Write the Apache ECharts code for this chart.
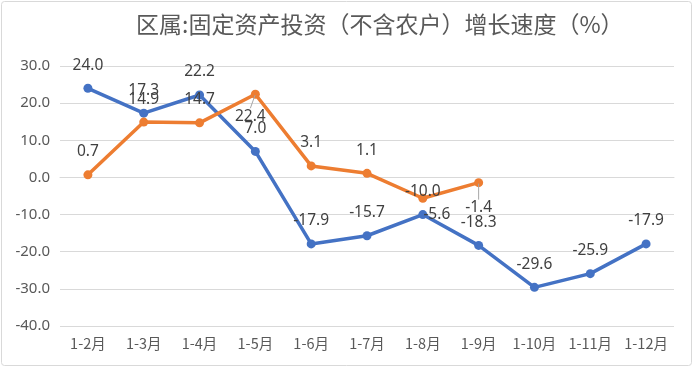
<!DOCTYPE html>
<html><head><meta charset="utf-8">
<script src="https://cdn.jsdelivr.net/npm/echarts@6/dist/echarts.min.js"></script>
<style>html,body{margin:0;padding:0;background:#fff}#c{width:694px;height:368px}</style>
</head><body><div id="c"></div>
<script>
const titleText = '区属:固定资产投资（不含农户）增长速度（%）';
const categories = ['1-2月','1-3月','1-4月','1-5月','1-6月','1-7月','1-8月','1-9月','1-10月','1-11月','1-12月'];
const blueValues = [24.0, 17.3, 22.2, 7.0, -17.9, -15.7, -10.0, -18.3, -29.6, -25.9, -17.9];
const orangeValues = [0.7, 14.9, 14.7, 22.4, 3.1, 1.1, -5.6, -1.4];
const yTicks = [-40, -30, -20, -10, 0, 10, 20, 30];

const labelFont = {fontSize: 15.5, color: '#404040', fontFamily: '"Noto Sans", sans-serif'};
const orangeMoves = {3: {dx: -5, dy: 22}, 6: {dx: 14, dy: 16}, 7: {dx: 0, dy: 25}};
const orangeLabelData = orangeValues.map((v, i) => ({
  value: v,
  labelLine: {show: i === 3 || i === 7}
}));

const lineSeries = (data, color) => ({
  type: 'line', data: data, symbol: 'circle', symbolSize: 9, z: 2,
  lineStyle: {color: color, width: 3.5}, itemStyle: {color: color}, label: {show: false}
});
const labelSeries = (data, layout, withLine) => ({
  type: 'line', data: data, symbol: 'circle', symbolSize: 2, z: 6, silent: true,
  lineStyle: {width: 0, opacity: 0}, itemStyle: {color: 'rgba(0,0,0,0)'},
  label: Object.assign({show: true, position: 'inside', formatter: p => p.value.toFixed(1)}, labelFont),
  labelLine: {show: false, lineStyle: {color: '#a6a6a6', width: 1}},
  labelLayout: layout
});

const chart = echarts.init(document.getElementById('c'), null, {renderer: 'canvas'});
chart.setOption({
  animation: false,
  backgroundColor: '#fff',
  graphic: [{type: 'rect', shape: {x: 1.5, y: 1.5, width: 690, height: 364, r: 3}, style: {fill: 'none', stroke: '#d9d9d9', lineWidth: 1}}],
  title: {
    text: titleText, left: 131, top: 8,
    textStyle: {fontSize: 23, fontWeight: 'normal', color: '#595959', fontFamily: '"Noto Sans CJK SC", sans-serif'}
  },
  grid: {left: 60, right: 20, top: 66, bottom: 42},
  xAxis: {
    type: 'category', data: categories, boundaryGap: true,
    axisLine: {show: true, lineStyle: {color: '#d9d9d9'}}, axisTick: {show: false},
    axisLabel: {interval: 0, margin: 10, fontSize: 14.5, color: '#595959', fontFamily: '"Noto Sans CJK SC", sans-serif'}
  },
  yAxis: {
    type: 'value', min: yTicks[0], max: yTicks[yTicks.length - 1], interval: 10,
    axisLine: {show: false}, axisTick: {show: false},
    splitLine: {lineStyle: {color: '#d9d9d9', width: 1}},
    axisLabel: {margin: 10, fontSize: 15, color: '#595959', fontFamily: '"Noto Sans", sans-serif', formatter: v => v.toFixed(1)}
  },
  series: [
    lineSeries(blueValues, '#4472C4'),
    lineSeries(orangeValues, '#ED7D31'),
    labelSeries(blueValues, p => ({dx: 0, dy: -23}), false),
    labelSeries(orangeLabelData, p => orangeMoves[p.dataIndex] || {dx: 0, dy: -23}, true)
  ]
});
</script></body></html>
